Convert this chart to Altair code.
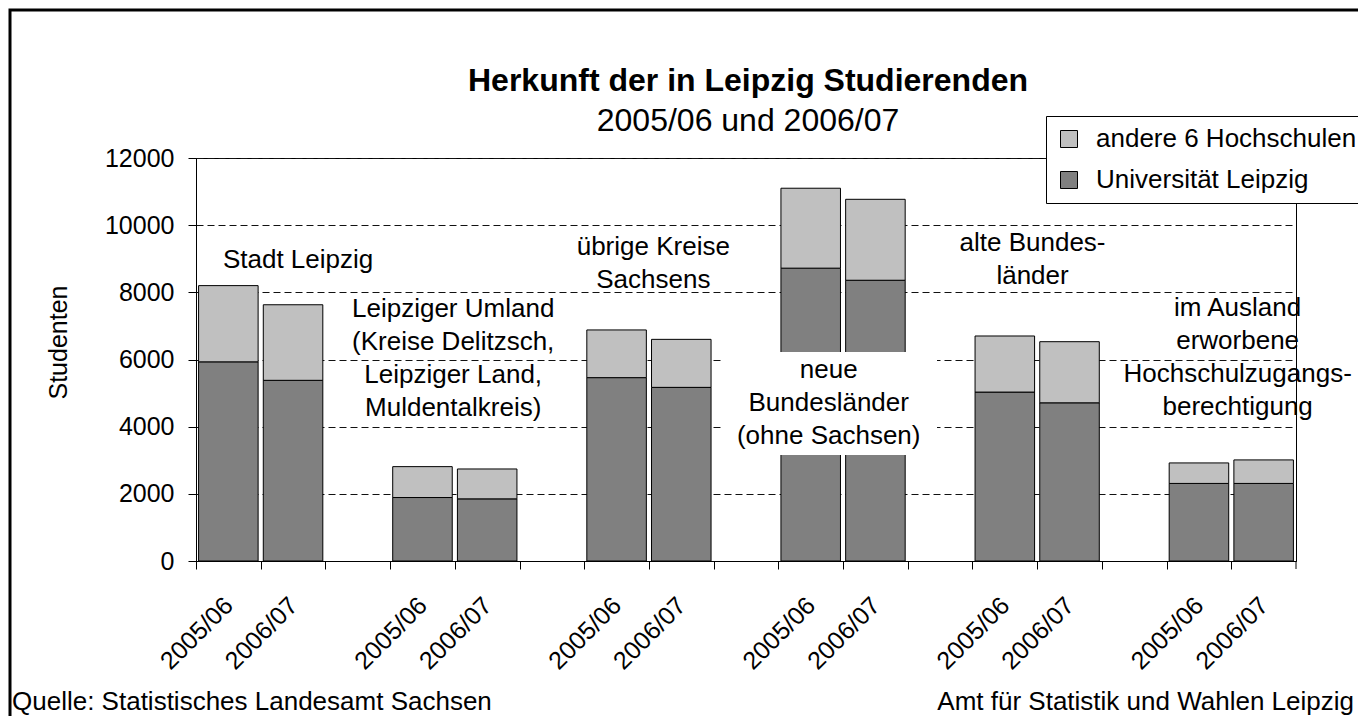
import altair as alt
import pandas as pd

# ---- data -------------------------------------------------------------
groups = ["Stadt Leipzig", "Leipziger Umland", "übrige Kreise Sachsens",
          "neue Bundesländer", "alte Bundesländer", "im Ausland"]
years = ["2005/06", "2006/07"]
# Universität Leipzig (lower segment), per group and year
uni = [5930, 5380, 1890, 1850, 5460, 5170, 8720, 8360, 5030, 4710, 2310, 2310]
# andere 6 Hochschulen (upper segment)
andere = [2270, 2250, 920, 890, 1420, 1430, 2380, 2410, 1670, 1820, 610, 700]
series = ["andere 6 Hochschulen", "Universität Leipzig"]
colors = ["#C0C0C0", "#808080"]
y_ticks = [0, 2000, 4000, 6000, 8000, 10000, 12000]

FONT = "Liberation Sans"

domain = []
rows = []
i = 0
for gi, g in enumerate(groups):
    for yr in years:
        cat = f"{g}|{yr}"
        domain.append(cat)
        rows.append({"cat": cat, "serie": series[1], "wert": uni[i], "ord": 0})
        rows.append({"cat": cat, "serie": series[0], "wert": andere[i], "ord": 1})
        i += 1
    if gi < len(groups) - 1:
        domain.append(f"leer{gi}")
df = pd.DataFrame(rows)

STEP = 1100 / len(domain)

x_enc = alt.X(
    "cat:N",
    scale=alt.Scale(domain=domain, paddingInner=0, paddingOuter=0),
    axis=alt.Axis(
        title=None,
        labelExpr="indexof(datum.value,'|') >= 0 ? split(datum.value,'|')[1] : ''",
        labelAngle=-45, labelAlign="right", labelBaseline="middle",
        labelFontSize=25, labelPadding=32, labelOverlap=False, labelColor="black",
        tickSize=8, tickOffset=-STEP / 2, labelOffset=STEP / 2,
        tickColor="black", domainColor="black",
        grid=False,
    ),
)
y_enc = alt.Y(
    "wert:Q",
    stack="zero",
    scale=alt.Scale(domain=[0, 12000], nice=False),
    axis=alt.Axis(
        values=y_ticks, format="d", title="Studenten", titleFontSize=25,
        titleFontWeight="normal", titleColor="black", titleAngle=270,
        titleX=-138, titleY=184, titleAlign="center", titleBaseline="middle",
        labelFontSize=25, labelPadding=14, labelColor="black",
        tickSize=8, tickColor="black", domainColor="black",
        grid=True, gridDash=[7, 4], gridColor="#111111", gridWidth=1,
    ),
)

bars = alt.Chart(df).mark_bar(
    width=alt.RelativeBandSize(0.92), stroke="black", strokeWidth=1
).encode(
    x=x_enc,
    y=y_enc,
    color=alt.Color(
        "serie:N",
        scale=alt.Scale(domain=series, range=colors),
        legend=alt.Legend(
            title=None, orient="none", legendX=850, legendY=-42,
            fillColor="white", strokeColor="black", padding=10,
            symbolType="square", symbolSize=289, symbolStrokeColor="black",
            symbolStrokeWidth=1, symbolOpacity=1,
            labelFontSize=26, labelOffset=14, labelColor="black", labelLimit=400,
            rowPadding=15,
        ),
    ),
    order=alt.Order("ord:Q", sort="ascending"),
)

# last tick at the right end of the category axis
end_tick = alt.Chart(alt.Data(values=[{"v": 0}])).mark_rule(color="black").encode(
    x=alt.value(1100), y=alt.value(403), y2=alt.value(411)
)

# white box behind "neue Bundesländer" annotation
box = alt.Chart(alt.Data(values=[{"v": 0}])).mark_rect(fill="white").encode(
    x=alt.value(526), x2=alt.value(741), y=alt.value(194), y2=alt.value(297)
)


def note(lines, cat, val, dx):
    # val = y position (data units) of the first line
    return alt.Chart(alt.Data(values=[{"cat": cat, "wert": val}])).mark_text(
        text=lines, fontSize=26, lineHeight=33, align="center", baseline="middle",
        dx=dx, color="black", font=FONT,
    ).encode(x=alt.X("cat:N"), y=alt.Y("wert:Q"))


notes = [
    note(["Stadt Leipzig"], "Stadt Leipzig|2006/07", 8963, 5),
    note(["Leipziger Umland", "(Kreise Delitzsch,", "Leipziger Land,", "Muldentalkreis)"],
         "Leipziger Umland|2006/07", 7504, -34),
    note(["übrige Kreise", "Sachsens"], "übrige Kreise Sachsens|2006/07", 9350, -28),
    note(["neue", "Bundesländer", "(ohne Sachsen)"], "neue Bundesländer|2005/06", 5687, 18),
    note(["alte Bundes-", "länder"], "alte Bundesländer|2006/07", 9469, -37),
    note(["im Ausland", "erworbene", "Hochschulzugangs-", "berechtigung"],
         "im Ausland|2006/07", 7533, -26),
]


def free_text(txt, x, y, size, weight="normal", align="center"):
    return alt.Chart(alt.Data(values=[{"v": 0}])).mark_text(
        text=txt, fontSize=size, fontWeight=weight, align=align,
        baseline="alphabetic", color="black", font=FONT,
    ).encode(x=alt.value(x), y=alt.value(y))


texts = [
    free_text("Herkunft der in Leipzig Studierenden", 552, -67, 32, "bold"),
    free_text("2005/06 und 2006/07", 552, -27, 32),
    free_text("Quelle: Statistisches Landesamt Sachsen", -184, 552, 26, align="left"),
    free_text("Amt für Statistik und Wahlen Leipzig", 1158, 552, 26, align="right"),
]

frame = alt.Chart(alt.Data(values=[{"v": 0}])).mark_rect(
    fillOpacity=0, stroke="black", strokeWidth=3
).encode(
    x=alt.value(-186), x2=alt.value(1400), y=alt.value(-148), y2=alt.value(800)
)

chart = alt.layer(bars, end_tick, box, *notes, *texts, frame).properties(
    width=1100,
    height=403,
    padding={"left": 188, "top": 150, "right": 62, "bottom": 155},
    autosize=alt.AutoSizeParams(type="none"),
).configure(font=FONT).configure_view(stroke="black", strokeWidth=1)

chart.save("out.html", embed_options={"renderer": "svg", "actions": False})
